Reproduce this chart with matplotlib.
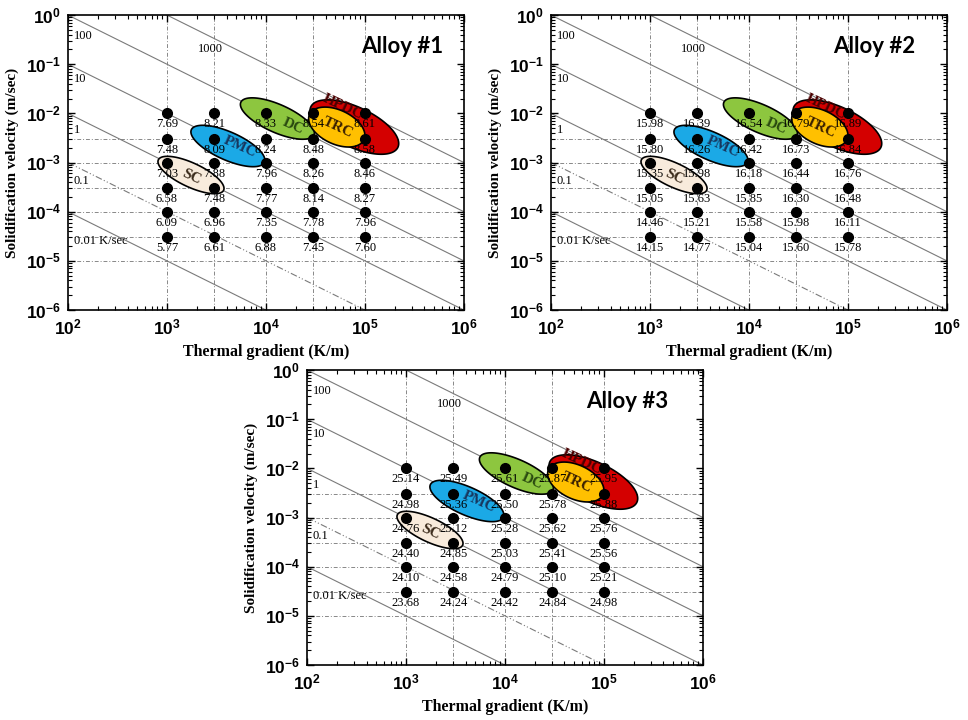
import numpy as np
import matplotlib
matplotlib.use("Agg")
import matplotlib.pyplot as plt
from matplotlib.ticker import FixedLocator, FixedFormatter, LogLocator, NullFormatter

plt.rcParams["mathtext.fontset"] = "custom"
plt.rcParams["mathtext.bf"] = "Liberation Sans:bold"
plt.rcParams["mathtext.rm"] = "Liberation Sans:bold"

# measurement grid (thermal gradient K/m, solidification velocity m/s)
gradients = [1e3, 3e3, 1e4, 3e4, 1e5]
velocities = [1e-2, 3e-3, 1e-3, 3e-4, 1e-4, 3e-5]

# values per gradient column, top (fast) to bottom (slow)
alloy1 = [
    [7.69, 7.48, 7.03, 6.58, 6.09, 5.77],
    [8.21, 8.09, 7.88, 7.48, 6.96, 6.61],
    [8.33, 8.24, 7.96, 7.77, 7.35, 6.88],
    [8.54, 8.48, 8.26, 8.14, 7.78, 7.45],
    [8.61, 8.58, 8.46, 8.27, 7.96, 7.60],
]
alloy2 = [
    [15.98, 15.80, 15.35, 15.05, 14.46, 14.15],
    [16.39, 16.26, 15.98, 15.63, 15.21, 14.77],
    [16.54, 16.42, 16.18, 15.85, 15.58, 15.04],
    [16.79, 16.73, 16.44, 16.30, 15.98, 15.60],
    [16.89, 16.84, 16.76, 16.48, 16.11, 15.78],
]
alloy3 = [
    [25.14, 24.98, 24.76, 24.40, 24.10, 23.68],
    [25.49, 25.36, 25.12, 24.85, 24.58, 24.24],
    [25.61, 25.50, 25.28, 25.03, 24.79, 24.42],
    [25.87, 25.78, 25.62, 25.41, 25.10, 24.84],
    [25.95, 25.88, 25.76, 25.56, 25.21, 24.98],
]
alloy_titles = ["Alloy #1", "Alloy #2", "Alloy #3"]

# iso cooling-rate lines V = R / G
cooling_rates = [0.01, 0.1, 1, 10, 100, 1000]
rate_labels = ["0.01 K/sec", "0.1", "1", "10", "100", "1000"]
rate_label_g = [115, 115, 115, 115, 115, 2050]
rate_label_v = [2.5e-5, 4.2e-4, 4.6e-3, 0.05, 0.38, 0.2]

grid_v = [3e-3, 1e-3, 3e-4, 1e-4, 3e-5, 1e-5]

# casting process regions
process_names = ["SC", "PMC", "DC", "HPDC", "TRC"]
process_g = [1750, 4130, 1.306e4, 7.83e4, 5.2e4]
process_v = [5.57e-4, 2.17e-3, 7.85e-3, 5.27e-3, 5.27e-3]
process_text_g = [1788, 5460, 1.87e4, 6.0e4, 5.34e4]
process_text_v = [5.07e-4, 2.07e-3, 5.53e-3, 1.35e-2, 5.03e-3]
process_a = [36, 40, 40, 48, 30]   # semi axes in pixels
process_b = [12, 14, 14, 20, 17]
process_angle = [-25, -24, -24, -25, -25]
process_fill = ["#f8ebdc", "#1ba9e6", "#8dc63f", "#d40000", "#ffc000"]
process_text_color = ["#3a2a1a", "#17375e", "#2a4a10", "#4a0000", "#3a2000"]

FIG_W, FIG_H = 968, 720
panel_rects = [
    [0.0702, 0.5694, 0.409, 0.4097],
    [0.5692, 0.5694, 0.409, 0.4097],
    [0.3171, 0.0764, 0.409, 0.4097],
]
title_x = [0.843, 0.816, 0.808]


def draw_panel(fig, rect, values, title, tx):
    ax = fig.add_axes(rect)
    ax.set_xscale("log")
    ax.set_yscale("log")
    ax.set_xlim(1e2, 1e6)
    ax.set_ylim(1e-6, 1)

    ppd_x = rect[2] * FIG_W / 4
    ppd_y = rect[3] * FIG_H / 6

    for g in gradients:
        ax.axvline(g, color="#888888", lw=0.7, ls=(0, (4, 2, 1, 2)), zorder=1)
    for v in grid_v:
        ax.axhline(v, color="#888888", lw=0.7, ls=(0, (4, 2, 1, 2)), zorder=1)

    for r, lab, lg, lv in zip(cooling_rates, rate_labels, rate_label_g, rate_label_v):
        g = np.array([1e2, 1e6])
        ls = (0, (6, 2, 1, 2, 1, 2)) if r == 0.1 else "-"
        ax.plot(g, r / g, color="#7a7a7a", lw=0.8, ls=ls, zorder=1.5)
        ax.text(lg, lv, lab, fontsize=9, family="Liberation Serif",
                ha="left", va="center", zorder=2)

    t = np.linspace(0, 2 * np.pi, 200)
    for i, name in enumerate(process_names):
        th = np.deg2rad(process_angle[i])
        a, b = process_a[i], process_b[i]
        dx = a * np.cos(t) * np.cos(th) - b * np.sin(t) * np.sin(th)
        dy = a * np.cos(t) * np.sin(th) + b * np.sin(t) * np.cos(th)
        ex = 10 ** (np.log10(process_g[i]) + dx / ppd_x)
        ey = 10 ** (np.log10(process_v[i]) + dy / ppd_y)
        z = 3 + 0.2 * i
        ax.fill(ex, ey, facecolor=process_fill[i], edgecolor="black", lw=1.2, zorder=z)
        ax.text(process_text_g[i], process_text_v[i], name, rotation=process_angle[i],
                fontsize=11, family="Liberation Serif", fontweight="bold",
                color=process_text_color[i], ha="center", va="center",
                rotation_mode="anchor", zorder=z + 0.1)

    for j, g in enumerate(gradients):
        for k, v in enumerate(velocities):
            ax.plot(g, v, "o", color="black", ms=7, zorder=4)
            ax.annotate(f"{values[j][k]:.2f}", (g, v), xytext=(0, -11),
                        textcoords="offset pixels", ha="center", va="center",
                        fontsize=9, family="Liberation Serif", zorder=4)

    ax.text(tx, 0.893, title, transform=ax.transAxes, fontsize=16,
            family="Lato", fontweight="bold", ha="center", va="center")

    xt = [1e2, 1e3, 1e4, 1e5, 1e6]
    yt = [1e-6, 1e-5, 1e-4, 1e-3, 1e-2, 1e-1, 1]
    ax.xaxis.set_major_locator(FixedLocator(xt))
    ax.xaxis.set_major_formatter(FixedFormatter([r"$\mathbf{10^{%d}}$" % e for e in range(2, 7)]))
    ax.yaxis.set_major_locator(FixedLocator(yt))
    ax.yaxis.set_major_formatter(FixedFormatter([r"$\mathbf{10^{%d}}$" % e for e in range(-6, 1)]))
    ax.xaxis.set_minor_locator(LogLocator(base=10, subs=np.arange(2, 10), numticks=20))
    ax.yaxis.set_minor_locator(LogLocator(base=10, subs=np.arange(2, 10), numticks=20))
    ax.xaxis.set_minor_formatter(NullFormatter())
    ax.yaxis.set_minor_formatter(NullFormatter())
    ax.tick_params(which="both", direction="in", top=True, right=True, labelsize=12.5)
    ax.tick_params(which="major", length=5, width=1)
    ax.tick_params(which="minor", length=3, width=0.8)
    ax.tick_params(axis="x", pad=6)
    ax.tick_params(axis="y", pad=5)
    for s in ax.spines.values():
        s.set_linewidth(1.2)

    ax.set_xlabel("Thermal gradient (K/m)", fontsize=11.5, family="Liberation Serif",
                  fontweight="bold", labelpad=4)
    ax.set_ylabel("Solidification velocity (m/sec)", fontsize=11,
                  family="Liberation Serif", fontweight="bold", labelpad=5)
    return ax


fig = plt.figure(figsize=(9.68, 7.2), dpi=100)
for rect, vals, title, tx in zip(panel_rects, [alloy1, alloy2, alloy3], alloy_titles, title_x):
    draw_panel(fig, rect, vals, title, tx)

fig.savefig("out.png", dpi=100)
